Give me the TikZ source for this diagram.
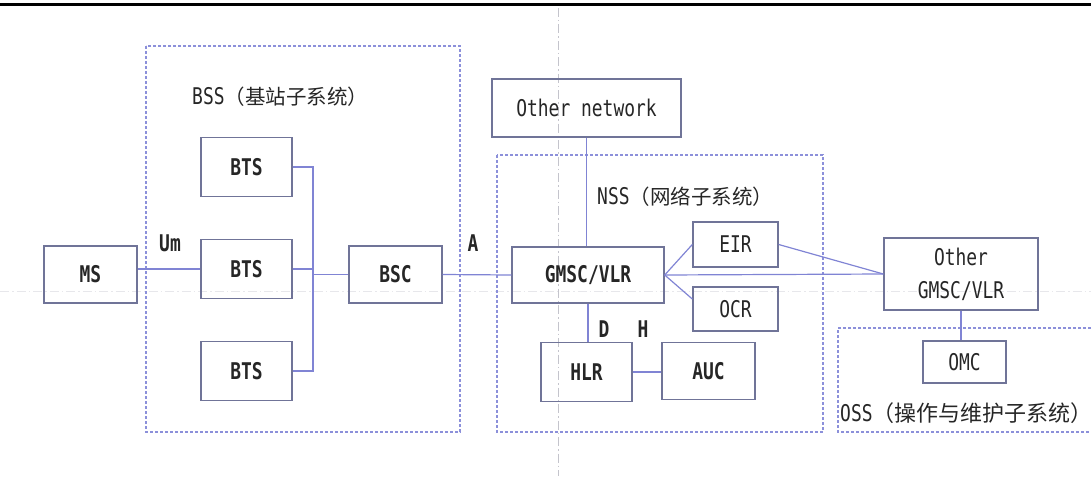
\documentclass[tikz,border=0pt]{standalone}
\usepackage{fontspec}
\newfontfamily\latin[FakeStretch=0.78]{DejaVu Sans Mono}
\newfontfamily\cjk{Noto Sans CJK SC}
\newcommand{\letra}{\latin\fontsize{23}{33}\selectfont}
\newcommand{\chino}[1]{{\cjk\fontsize{20.5}{24}\selectfont #1}}
\definecolor{colBorde}{RGB}{112,116,152}
\definecolor{colLinea}{RGB}{128,132,212}
\definecolor{colMarco}{RGB}{140,144,218}
\definecolor{colTexto}{RGB}{38,38,38}
\definecolor{colFondo}{RGB}{196,196,204}

\begin{document}
\begin{tikzpicture}[x=1pt, y=-1pt,
        caja/.style={draw=colBorde, line width=1.4pt, inner sep=0pt, text=colTexto, font=\letra},
        gruesa/.style={font=\letra\bfseries},
        enlace/.style={draw=colLinea, line width=1.2pt},
        marco/.style={draw=colMarco, line width=1.2pt, dash pattern=on 3pt off 2pt},
        etiqueta/.style={inner sep=0pt, text=colTexto, font=\letra},
        fondo/.style={draw=colFondo, line width=0.8pt, dash pattern=on 9pt off 3pt on 1.5pt off 3pt}]
        \useasboundingbox (0,0) rectangle (1091,476);

        % ~~~~ Raya superior y guias de fondo ~~~~%
        \draw[line width=3pt] (0,5) -- (1091,5);
        \draw[fondo] (558,8) -- (558,476);
        \draw[fondo, draw=colFondo!40] (0,291) -- (1091,291);

        % ~~~~ Marcos de los subsistemas ~~~~%
        \draw[marco] (146,46) rectangle (460,432);
        \draw[marco] (497,155) rectangle (823,432);
        \draw[marco] (1091,328) -- (838,328) -- (838,432) -- (1091,432);
        \node[etiqueta, anchor=west] (bsslbl) at (192,97) {BSS\chino{（基站子系统）}};
        \node[etiqueta, anchor=west] (nsslbl) at (597,197) {NSS\chino{（网络子系统）}};
        \node[etiqueta, anchor=west] (osslbl) at (840,413) {OSS{\cjk\fontsize{22}{26}\selectfont（操作与维护子系统）}};

        % ~~~~ Movil y estaciones base ~~~~%
        \node[caja, gruesa, minimum width=93, minimum height=57] (ms) at (90.5,274.5) {MS};
        \node[caja, gruesa, minimum width=91, minimum height=59] (btsa) at (246.5,167) {BTS};
        \node[caja, gruesa, minimum width=91, minimum height=59] (btsb) at (246.5,269) {BTS};
        \node[caja, gruesa, minimum width=91, minimum height=59] (btsc) at (246.5,371) {BTS};
        \node[caja, gruesa, minimum width=93, minimum height=57] (bsc) at (395.5,274.5) {BSC};

        % ~~~~ Red y conmutacion ~~~~%
        \node[caja, minimum width=189, minimum height=58] (othernet) at (586.5,108) {Other network};
        \node[caja, gruesa, minimum width=152, minimum height=56] (gmsc) at (588,275) {GMSC/VLR};
        \node[caja, minimum width=85, minimum height=45] (eir) at (735.5,244.5) {EIR};
        \node[caja, minimum width=85, minimum height=44] (ocr) at (735.5,309) {OCR};
        \node[caja, gruesa, minimum width=91, minimum height=59] (hlr) at (586.5,372) {HLR};
        \node[caja, gruesa, minimum width=93, minimum height=57] (auc) at (708.5,371) {AUC};
        \node[caja, minimum width=154, minimum height=72, align=center] (othergmsc) at (961,274) {Other\\GMSC/VLR};
        \node[caja, minimum width=83, minimum height=42] (omc) at (964.5,362) {OMC};

        % ~~~~ Interfaces ~~~~%
        \node[etiqueta, gruesa] (um) at (170,243) {Um};
        \node[etiqueta, gruesa] (ifa) at (473,243) {A};
        \node[etiqueta, gruesa] (ifd) at (604,329) {D};
        \node[etiqueta, gruesa] (ifh) at (643,329) {H};

        % ~~~~ Conexiones ~~~~%
        \coordinate (bus) at (313,0);
        \draw[enlace] (btsb.west -| ms.east) -- (btsb.west);
        \draw[enlace] (btsa.east) -- (btsa.east -| bus) -- (btsc.east -| bus) -- (btsc.east);
        \draw[enlace] (btsb.east) -- (btsb.east -| bus);
        \draw[enlace] (bsc.west -| bus) -- (bsc.west);
        \draw[enlace] (bsc.east) -- (gmsc.west);
        \draw[enlace] (othernet.south) -- (othernet.south |- gmsc.north);
        \draw[enlace] (gmsc.south) -- (gmsc.south |- hlr.north);
        \draw[enlace] (hlr.east) -- (hlr.east -| auc.west);
        \draw[enlace] (gmsc.east) -- (eir.west);
        \draw[enlace] (gmsc.east) -- ([yshift=10pt]ocr.west);
        \draw[enlace] (gmsc.east) -- (othergmsc.west);
        \draw[enlace] (eir.east) -- (othergmsc.west);
        \draw[enlace] (othergmsc.south) -- (othergmsc.south |- omc.north);
    \end{tikzpicture}
\end{document}
